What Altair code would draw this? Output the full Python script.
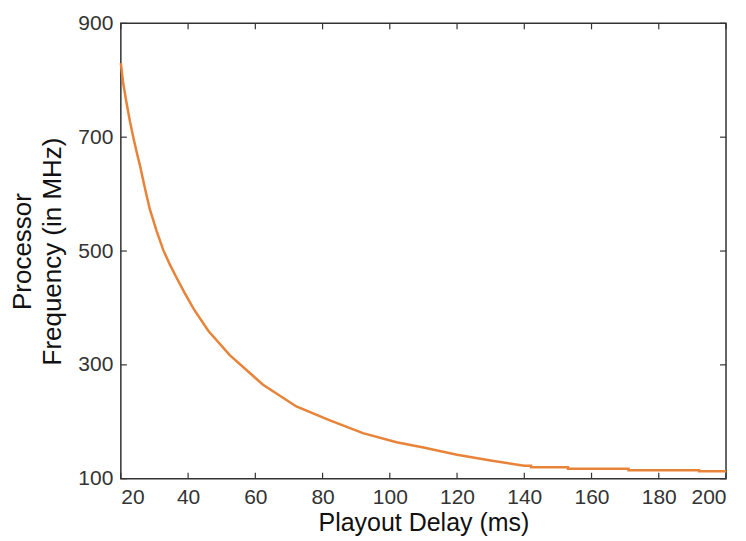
import altair as alt
import pandas as pd

# Curve
delay_ms = [20, 20.7, 21.7, 22.7, 23.7, 24.7, 25.7, 27.1, 28.6, 30.6, 32.6, 34.6, 36.5, 39,
            41.7, 46, 52.4, 62.3, 72.2, 82, 92,
            102, 110, 120, 130, 140, 142, 142, 153, 153, 171, 171, 192, 192, 200]
freq_mhz = [830, 795, 760, 728, 700, 674, 650, 612, 574, 536, 502, 476, 454, 426,
            398, 360, 317, 265, 227, 203, 180,
            164, 155, 142, 132, 123, 123, 120, 120, 117.5, 117.5, 115, 115, 113, 113]

x_ticks = [20, 40, 60, 80, 100, 120, 140, 160, 180, 200]
y_ticks = [100, 300, 500, 700, 900]

W, H = 606, 456
FONT = "Liberation Sans"
AXIS_COLOR = "#333333"
TICK_LEN = 6

curve = pd.DataFrame({"x": delay_ms, "y": freq_mhz, "i": range(len(delay_ms))})
xt = pd.DataFrame({"x": x_ticks})
yt = pd.DataFrame({"y": y_ticks})

xscale = alt.Scale(domain=[20, 200], nice=False, zero=False)
yscale = alt.Scale(domain=[100, 900], nice=False, zero=False)

line = alt.Chart(curve).mark_line(color="#E8833A", strokeWidth=2.5).encode(
    x=alt.X("x:Q", scale=xscale,
            axis=alt.Axis(title="Playout Delay (ms)", values=x_ticks, ticks=False,
                          domain=False, grid=False, labelPadding=8, titlePadding=3,
                          titleFontSize=25)),
    y=alt.Y("y:Q", scale=yscale,
            axis=alt.Axis(title=["Processor", "Frequency (in MHz)"], values=y_ticks,
                          ticks=False, domain=False, grid=False, labelPadding=8,
                          titlePadding=12, titleLineHeight=30)),
    order="i:Q",
)

bottom = alt.Chart(xt).mark_rule(color=AXIS_COLOR, strokeWidth=1.2).encode(
    x=alt.X("x:Q", scale=xscale), y=alt.value(H), y2=alt.value(H - TICK_LEN))
top = alt.Chart(xt).mark_rule(color=AXIS_COLOR, strokeWidth=1.2).encode(
    x=alt.X("x:Q", scale=xscale), y=alt.value(0), y2=alt.value(TICK_LEN))
left = alt.Chart(yt).mark_rule(color=AXIS_COLOR, strokeWidth=1.2).encode(
    y=alt.Y("y:Q", scale=yscale), x=alt.value(0), x2=alt.value(TICK_LEN))
right = alt.Chart(yt).mark_rule(color=AXIS_COLOR, strokeWidth=1.2).encode(
    y=alt.Y("y:Q", scale=yscale), x=alt.value(W), x2=alt.value(W - TICK_LEN))

chart = alt.layer(bottom, top, left, right, line).properties(
    width=W, height=H,
    background="white",
    autosize=alt.AutoSizeParams(type="none"),
    padding={"left": 113, "top": 15, "right": 12, "bottom": 60},
).configure_view(
    stroke=AXIS_COLOR, strokeWidth=1.5
).configure_axis(
    labelFont=FONT, labelFontSize=21, labelColor="#333333",
    titleFont=FONT, titleFontSize=26, titleFontWeight="normal", titleColor="#111111",
    labelOverlap=False,
)

chart.save("out.html", embed_options={"renderer": "svg", "actions": False})
